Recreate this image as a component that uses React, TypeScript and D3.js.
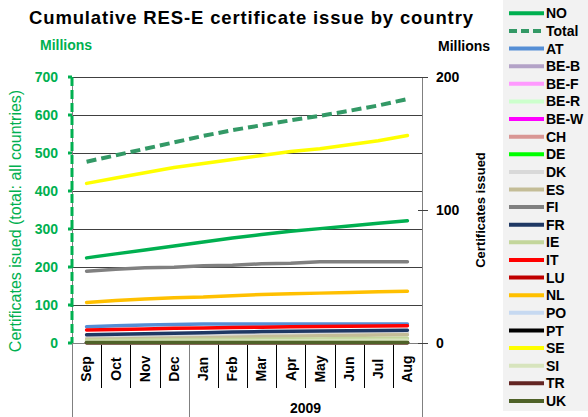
import React from "react";
import * as d3 from "d3";

const months = ["Sep", "Oct", "Nov", "Dec", "Jan", "Feb", "Mar", "Apr", "May", "Jun", "Jul", "Aug"];
const yearLabel = "2009";
const leftTicks = [0, 100, 200, 300, 400, 500, 600, 700];
const rightTicks = [0, 100, 200];

// Left axis (total, millions)
const totalValues = [477, 494, 511, 528, 545, 560, 573, 586, 598, 611, 625, 642];

// Right axis (countries, millions)
const noValues = [64, 67, 70, 73, 76, 79, 81.5, 84, 86, 88, 90, 92];
const atValues = [12.3, 13, 13.5, 14, 14.2, 14.3, 14.3, 14.3, 14.3, 14.3, 14.3, 14.3];
const beBValues = [1, 1, 1, 1.1, 1.1, 1.1, 1.2, 1.2, 1.2, 1.2, 1.3, 1.3];
const beFValues = [0.8, 0.8, 0.8, 0.9, 0.9, 0.9, 0.9, 1, 1, 1, 1, 1];
const beRValues = [0.1, 0.1, 0.1, 0.1, 0.1, 0.1, 0.1, 0.1, 0.1, 0.1, 0.1, 0.1];
const beWValues = [0.5, 0.5, 0.5, 0.6, 0.6, 0.6, 0.6, 0.7, 0.7, 0.7, 0.7, 0.7];
const chValues = [0.6, 0.6, 0.6, 0.6, 0.7, 0.7, 0.7, 0.7, 0.7, 0.8, 0.8, 0.8];
const deValues = [1.5, 1.5, 1.5, 1.5, 1.6, 1.6, 1.6, 1.6, 1.7, 1.7, 1.7, 1.7];
const dkValues = [4.3, 4.6, 5, 5.4, 5.8, 6.2, 6.6, 7, 7.3, 7.5, 7.7, 7.8];
const esValues = [2.8, 3.1, 3.4, 3.7, 4, 4.4, 4.8, 5.1, 5.4, 5.7, 6, 6.2];
const fiValues = [54, 55.5, 56.5, 57, 58, 58.5, 59.5, 60, 61, 61, 61, 61];
const frValues = [6.2, 6.6, 7, 7.4, 7.8, 8.2, 8.6, 8.9, 9.1, 9.3, 9.4, 9.5];
const ieValues = [2, 2.1, 2.3, 2.4, 2.6, 2.7, 2.9, 3, 3.1, 3.3, 3.4, 3.5];
const itValues = [9.8, 10.2, 10.6, 11, 11.3, 11.6, 11.9, 12.2, 12.4, 12.6, 12.8, 13];
const luValues = [0.2, 0.2, 0.2, 0.2, 0.2, 0.2, 0.2, 0.2, 0.2, 0.2, 0.2, 0.2];
const nlValues = [30.5, 32, 33, 34, 34.5, 35.5, 36.5, 37, 37.5, 38, 38.5, 39];
const poValues = [0.1, 0.1, 0.1, 0.1, 0.1, 0.1, 0.1, 0.1, 0.1, 0.1, 0.1, 0.1];
const ptValues = [0.5, 0.5, 0.5, 0.5, 0.5, 0.5, 0.5, 0.5, 0.5, 0.5, 0.5, 0.5];
const seValues = [120, 124, 128, 132, 135, 138, 141, 144, 146, 149, 152, 156];
const siValues = [1, 1.1, 1.2, 1.3, 1.4, 1.5, 1.6, 1.7, 1.8, 1.9, 2, 2];
const trValues = [0.1, 0.1, 0.1, 0.1, 0.1, 0.1, 0.1, 0.1, 0.1, 0.1, 0.1, 0.1];
const ukValues = [0.3, 0.3, 0.3, 0.3, 0.3, 0.3, 0.3, 0.3, 0.3, 0.3, 0.3, 0.3];

type Series = { name: string; values: number[]; color: string; axis: "L" | "R"; dashed?: boolean };

const series: Series[] = [
  { name: "NO", values: noValues, color: "#00b050", axis: "R" },
  { name: "Total", values: totalValues, color: "#339966", axis: "L", dashed: true },
  { name: "AT", values: atValues, color: "#558ed5", axis: "R" },
  { name: "BE-B", values: beBValues, color: "#b3a2c7", axis: "R" },
  { name: "BE-F", values: beFValues, color: "#ff99ff", axis: "R" },
  { name: "BE-R", values: beRValues, color: "#ccffcc", axis: "R" },
  { name: "BE-W", values: beWValues, color: "#ff00ff", axis: "R" },
  { name: "CH", values: chValues, color: "#d99694", axis: "R" },
  { name: "DE", values: deValues, color: "#00ff00", axis: "R" },
  { name: "DK", values: dkValues, color: "#d9d9d9", axis: "R" },
  { name: "ES", values: esValues, color: "#c4bd97", axis: "R" },
  { name: "FI", values: fiValues, color: "#808080", axis: "R" },
  { name: "FR", values: frValues, color: "#1f3864", axis: "R" },
  { name: "IE", values: ieValues, color: "#c3d69b", axis: "R" },
  { name: "IT", values: itValues, color: "#ff0000", axis: "R" },
  { name: "LU", values: luValues, color: "#c00000", axis: "R" },
  { name: "NL", values: nlValues, color: "#ffc000", axis: "R" },
  { name: "PO", values: poValues, color: "#c6d9f1", axis: "R" },
  { name: "PT", values: ptValues, color: "#000000", axis: "R" },
  { name: "SE", values: seValues, color: "#ffff00", axis: "R" },
  { name: "SI", values: siValues, color: "#d7e4bd", axis: "R" },
  { name: "TR", values: trValues, color: "#632523", axis: "R" },
  { name: "UK", values: ukValues, color: "#4f6228", axis: "R" },
];

const W = 588;
const H = 417;
const PL = 72, PR = 422, PT = 77, PB = 343;
const FONT = "'Liberation Sans', Arial, sans-serif";
const GREEN = "#00b050";

export default function App() {
  const x = d3.scaleBand<string>().domain(months).range([PL, PR]);
  const yL = d3.scaleLinear().domain([0, 700]).range([PB, PT]);
  const yR = d3.scaleLinear().domain([0, 200]).range([PB, PT]);
  const cx = (m: string) => (x(m) as number) + x.bandwidth() / 2;

  const drawOrder = [...series.filter((s) => s.axis === "L"), ...series.filter((s) => s.axis === "R")];

  const legendY = (i: number) => 13.3 + i * 17.62;

  return (
    <svg width={W} height={H} style={{ position: "absolute", left: 0, top: 0, background: "#fff" }} fontFamily={FONT}>
      {/* title */}
      <text x={29} y={24} fontSize={18.5} fontWeight="bold" fill="#000" textLength={444} lengthAdjust="spacing">
        Cumulative RES-E certificate issue by country
      </text>
      <text x={40} y={50} fontSize={14} fontWeight="bold" fill={GREEN}>Millions</text>
      <text x={438} y={51} fontSize={14} fontWeight="bold" fill="#000">Millions</text>

      {/* gridlines */}
      {leftTicks.map((t) => (
        <line key={"g" + t} x1={PL} x2={PR} y1={Math.round(yL(t)) + 0.5} y2={Math.round(yL(t)) + 0.5} stroke={t === 0 ? "#808080" : "#404040"} strokeWidth={1} />
      ))}

      {/* category axis structure */}
      <line x1={PL} x2={PR + 6} y1={PB + 0.5} y2={PB + 0.5} stroke="#808080" />
      {months.map((m, i) => {
        if (i === 0) return null;
        const xx = Math.round(x(m) as number) + 0.5;
        const long = m === "Jan";
        return <line key={"s" + m} x1={xx} x2={xx} y1={PB} y2={long ? 417 : 388} stroke={long ? "#808080" : "#000"} />;
      })}
      <line x1={PL + 0.5} x2={PL + 0.5} y1={PT} y2={417} stroke="#808080" />
      <line x1={PR + 0.5} x2={PR + 0.5} y1={PT} y2={417} stroke="#808080" />
      {months.map((m) => (
        <text key={"m" + m} transform={`translate(${cx(m)},369) rotate(-90)`} textAnchor="middle" dy="0.35em" fontSize={14} fontWeight="bold" fill="#000">
          {m}
        </text>
      ))}
      <text x={(Math.round(x("Jan") as number) + PR) / 2} y={413} textAnchor="middle" fontSize={14} fontWeight="bold" fill="#000">
        {yearLabel}
      </text>

      {/* series */}
      {drawOrder.map((s) => {
        const y = s.axis === "L" ? yL : yR;
        const gen = d3.line<number>().x((_, i) => cx(months[i])).y((v) => y(v));
        return (
          <path
            key={s.name}
            d={gen(s.values) || ""}
            fill="none"
            stroke={s.color}
            strokeWidth={s.dashed ? 4 : 3.5}
            strokeDasharray={s.dashed ? "10,5" : undefined}
            strokeLinecap={s.dashed ? "butt" : "round"}
            strokeLinejoin="round"
          />
        );
      })}

      {/* left axis */}
      <line x1={PL} x2={PL} y1={PT} y2={PB} stroke={GREEN} strokeWidth={3} strokeDasharray="9,4" />
      {leftTicks.map((t) => (
        <g key={"l" + t}>
          <line x1={PL - 4} x2={PL} y1={yL(t)} y2={yL(t)} stroke={GREEN} strokeWidth={3} />
          <text x={58} y={yL(t)} dy="0.35em" textAnchor="end" fontSize={14} fontWeight="bold" fill={GREEN}>
            {t}
          </text>
        </g>
      ))}
      <text transform={`translate(15,${(PT + PB) / 2 + 11}) rotate(-90)`} textAnchor="middle" dy="0.35em" fontSize={16} fill={GREEN}>
        Certificates isued (total: all countries)
      </text>

      {/* right axis */}
      {rightTicks.map((t) => (
        <g key={"r" + t}>
          <line x1={PR - 4} x2={PR + 6} y1={Math.round(yR(t)) + 0.5} y2={Math.round(yR(t)) + 0.5} stroke="#404040" />
          <text x={436} y={yR(t)} dy="0.35em" textAnchor="start" fontSize={14} fontWeight="bold" fill="#000">
            {t}
          </text>
        </g>
      ))}
      <text transform={`translate(480,210) rotate(-90)`} textAnchor="middle" dy="0.35em" fontSize={13} fontWeight="bold" fill="#000">
        Certificates issued
      </text>

      {/* legend */}
      <rect x={503} y={0} width={85} height={411} fill="#f2f2f2" />
      {series.map((s, i) => (
        <g key={"lg" + s.name}>
          <line
            x1={509}
            x2={544}
            y1={legendY(i)}
            y2={legendY(i)}
            stroke={s.color}
            strokeWidth={4}
            strokeDasharray={s.dashed ? "8,4" : undefined}
          />
          <text x={546} y={legendY(i)} dy="0.36em" fontSize={14} fontWeight="bold" fill="#000">
            {s.name}
          </text>
        </g>
      ))}
    </svg>
  );
}
